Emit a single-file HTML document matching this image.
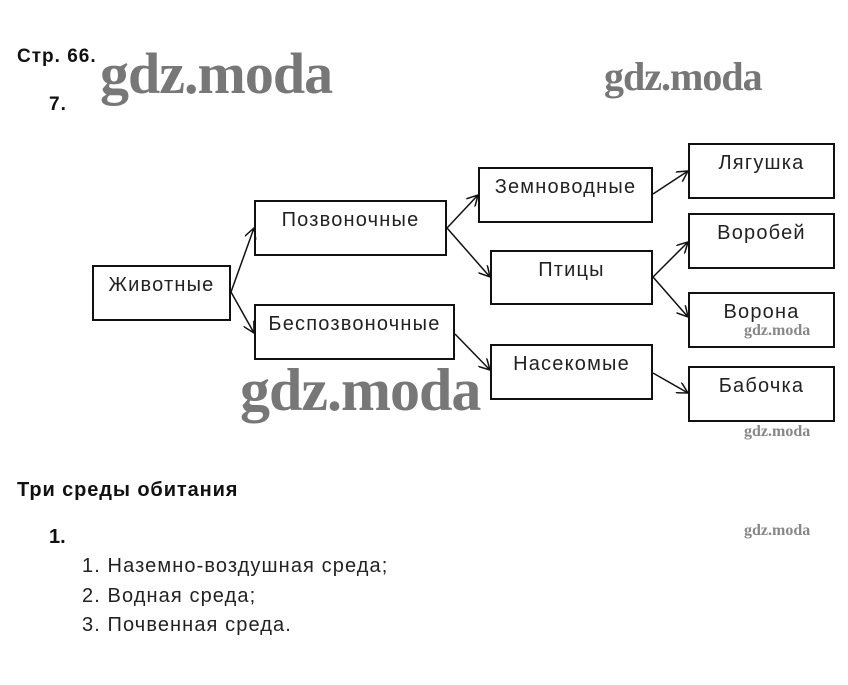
<!DOCTYPE html>
<html><head><meta charset="utf-8"><style>
body{margin:0;width:848px;height:685px;background:#fff;position:relative;font-family:"Liberation Sans",Arial,sans-serif;overflow:hidden}
.t{position:absolute;white-space:nowrap;color:#111}
.b{position:absolute;border:2px solid #111;box-sizing:border-box;text-align:center;font-size:20px;letter-spacing:1.2px;color:#222;padding-top:7px}
.l{font-size:20px;letter-spacing:1.1px;color:#222}
.wm{position:absolute;font-family:"Liberation Serif",serif;font-weight:bold;color:#888;white-space:nowrap;letter-spacing:-1px}
</style></head><body>
<div class="t" style="left:17px;top:46px;font-size:19px;font-weight:bold;letter-spacing:1px">Стр. 66.</div>
<div class="t" style="left:49px;top:94px;font-size:19px;font-weight:bold;letter-spacing:1px">7.</div>
<div class="wm" style="left:100px;top:40px;font-size:58px;color:#777">gdz.moda</div>
<div class="wm" style="left:604px;top:53px;font-size:40px;color:#777">gdz.moda</div>
<div class="wm" style="left:240px;top:356px;font-size:60px;color:#777">gdz.moda</div>
<div class="wm" style="left:744px;top:322px;font-size:16px;letter-spacing:0">gdz.moda</div>
<div class="wm" style="left:744px;top:423px;font-size:16px;letter-spacing:0">gdz.moda</div>
<div class="wm" style="left:744px;top:522px;font-size:16px;letter-spacing:0">gdz.moda</div>

<div class="b" style="left:92px;top:265px;width:139px;height:56px">Животные</div>
<div class="b" style="left:254px;top:200px;width:193px;height:56px">Позвоночные</div>
<div class="b" style="left:254px;top:304px;width:201px;height:56px">Беспозвоночные</div>
<div class="b" style="left:478px;top:167px;width:175px;height:56px">Земноводные</div>
<div class="b" style="left:490px;top:250px;width:163px;height:55px">Птицы</div>
<div class="b" style="left:490px;top:344px;width:163px;height:56px">Насекомые</div>
<div class="b" style="left:688px;top:143px;width:147px;height:56px">Лягушка</div>
<div class="b" style="left:688px;top:213px;width:147px;height:56px">Воробей</div>
<div class="b" style="left:688px;top:292px;width:147px;height:56px">Ворона</div>
<div class="b" style="left:688px;top:366px;width:147px;height:56px">Бабочка</div>

<svg width="848" height="685" style="position:absolute;left:0;top:0">
<defs><marker id="a" markerWidth="12" markerHeight="12" refX="11" refY="6" orient="auto" markerUnits="userSpaceOnUse"><path d="M0,0 L11,6 L0,12" fill="none" stroke="#111" stroke-width="1.5"/></marker></defs>
<g stroke="#111" stroke-width="1.5" fill="none" marker-end="url(#a)">
<line x1="231" y1="292" x2="254" y2="228"/>
<line x1="231" y1="292" x2="254" y2="333"/>
<line x1="447" y1="228" x2="478" y2="195"/>
<line x1="447" y1="228" x2="490" y2="277"/>
<line x1="455" y1="334" x2="490" y2="370"/>
<line x1="653" y1="194" x2="688" y2="171"/>
<line x1="653" y1="277" x2="688" y2="242"/>
<line x1="653" y1="277" x2="688" y2="317"/>
<line x1="653" y1="373" x2="688" y2="393"/>
</g></svg>

<div class="t" style="left:17px;top:479px;font-size:20px;font-weight:bold;letter-spacing:0.9px">Три среды обитания</div>
<div class="t" style="left:49px;top:526px;font-size:20px;font-weight:bold">1.</div>
<div class="t l" style="left:82px;top:555px">1. Наземно-воздушная среда;</div>
<div class="t l" style="left:82px;top:585px">2. Водная среда;</div>
<div class="t l" style="left:82px;top:614px">3. Почвенная среда.</div>
</body></html>
